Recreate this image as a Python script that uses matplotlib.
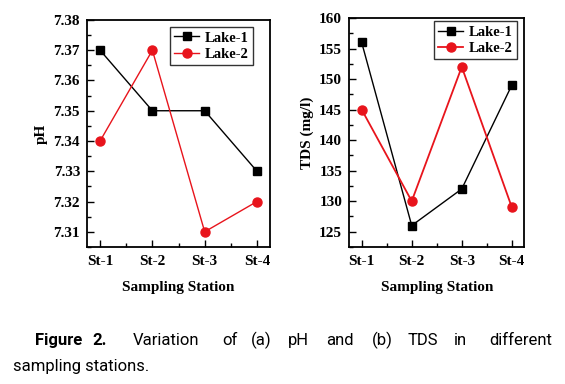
import numpy as np
import matplotlib.pyplot as plt
from matplotlib.ticker import MultipleLocator, AutoMinorLocator

plt.rcParams['font.family'] = ['Liberation Serif', 'DejaVu Serif']
plt.rcParams['font.weight'] = 'bold'

stations = ['St-1', 'St-2', 'St-3', 'St-4']
ph_lake1 = [7.37, 7.35, 7.35, 7.33]
ph_lake2 = [7.34, 7.37, 7.31, 7.32]
tds_lake1 = [156, 126, 132, 149]
tds_lake2 = [145, 130, 152, 129]

caption_words = ['Variation', 'of', '(a)', 'pH', 'and', '(b)', 'TDS', 'in', 'different']
caption_x = [133, 222, 251, 288, 326, 372, 408, 454, 489]

fig = plt.figure(figsize=(5.65, 3.84), dpi=100)
ax1 = fig.add_axes([0.154, 0.357, 0.324, 0.591])
ax2 = fig.add_axes([0.618, 0.357, 0.310, 0.596])

x = np.arange(len(stations))
red = '#e8141c'


def style(ax, anchor):
    ax.set_xticks(x)
    ax.set_xticklabels(stations)
    ax.set_xlim(-0.25, 3.25)
    ax.xaxis.set_minor_locator(MultipleLocator(0.5))
    ax.yaxis.set_minor_locator(AutoMinorLocator(2))
    ax.tick_params(which='both', direction='in', labelsize=11, width=1)
    ax.tick_params(which='major', length=5)
    ax.tick_params(which='minor', length=3)
    ax.tick_params(axis='x', pad=6)
    ax.tick_params(axis='y', pad=5)
    for s in ax.spines.values():
        s.set_linewidth(1.3)
    ax.set_xlabel('Sampling Station', fontsize=11, fontweight='bold', labelpad=9)
    leg = ax.legend(loc='upper right', bbox_to_anchor=anchor, fontsize=10.5,
                    handlelength=1.7, borderpad=0.3, labelspacing=0.2,
                    handletextpad=0.4, fancybox=False, shadow=False,
                    borderaxespad=0)
    leg.get_frame().set_edgecolor('black')
    leg.get_frame().set_linewidth(1.0)


ax1.plot(x, ph_lake1, color='black', marker='s', markersize=5.5, lw=1, label='Lake-1')
ax1.plot(x, ph_lake2, color=red, marker='o', markersize=6.5, lw=1, label='Lake-2')
ax1.set_ylim(7.305, 7.38)
ax1.yaxis.set_major_locator(MultipleLocator(0.01))
ax1.yaxis.set_major_formatter(plt.FormatStrFormatter('%.2f'))
ax1.set_ylabel('pH', fontsize=11, fontweight='bold', labelpad=4)
style(ax1, (0.907, 0.969))

ax2.plot(x, tds_lake1, color='black', marker='s', markersize=5.5, lw=1, label='Lake-1')
ax2.plot(x, tds_lake2, color=red, marker='o', markersize=6.5, lw=1.3, label='Lake-2')
ax2.set_ylim(122.5, 160)
ax2.yaxis.set_major_locator(MultipleLocator(5))
ax2.set_ylabel('TDS (mg/l)', fontsize=11, fontweight='bold', labelpad=4)
style(ax2, (0.96, 0.987))

# caption, justified word by word
W, H = 565, 384
cap_font = ['Roboto', 'DejaVu Sans']
fig.text(35 / W, 1 - 345 / H, 'Figure', fontsize=12, fontweight='bold', family=cap_font, va='baseline')
fig.text(92 / W, 1 - 345 / H, '2.', fontsize=12, fontweight='bold', family=cap_font, va='baseline')
for w, px in zip(caption_words, caption_x):
    fig.text(px / W, 1 - 345 / H, w, fontsize=12, fontweight='normal', family=cap_font, va='baseline')
fig.text(13 / W, 1 - 371 / H, 'sampling stations.', fontsize=12, fontweight='normal',
         family=cap_font, va='baseline')

fig.savefig('out.png', dpi=100)
